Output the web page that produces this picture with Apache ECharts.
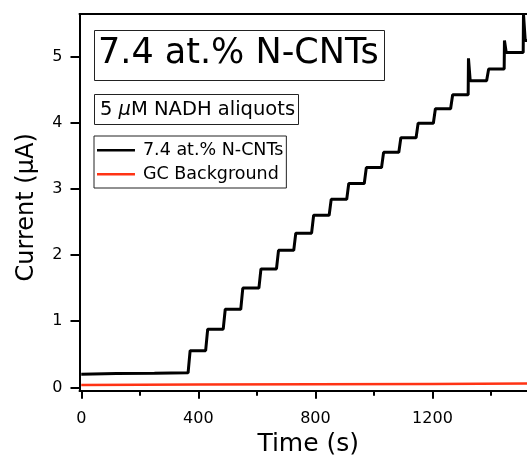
<!DOCTYPE html>
<html>
<head>
<meta charset="utf-8">
<script src="https://cdn.jsdelivr.net/npm/echarts@6/dist/echarts.min.js"></script>
<style>
html,body{margin:0;padding:0;background:#fff;}
#chart{width:527px;height:457px;}
</style>
</head>
<body>
<div id="chart"></div>
<script>
// ---- data ----
const seriesNames = ['7.4 at.% N-CNTs', 'GC Background'];
// baseline of the N-CNT trace before the first aliquot
const baselineTimes = [0, 120, 250, 365];
const baselineValues = [0.20, 0.21, 0.215, 0.22];
// times (s) at which each NADH aliquot step starts
const stepTimes = [365, 425, 485, 545, 607, 667, 726, 787, 847, 907, 967, 1026, 1085, 1144, 1203, 1262, 1322, 1385, 1445, 1510];
// plateau current (uA) after each step
const stepLevels = [0.555, 0.88, 1.18, 1.50, 1.79, 2.07, 2.33, 2.60, 2.84, 3.08, 3.32, 3.55, 3.77, 3.99, 4.21, 4.42, 4.63, 4.81, 5.06, 5.24];
// injection spike peaks (uA), null where no spike
const stepSpikes = [null, null, null, null, null, null, null, null, null, null, null, null, null, null, null, null, 4.97, null, 5.24, 5.64];
const riseSeconds = 7;
const traceEnd = 1523;
// GC background trace
const bgTimes = [0, 400, 800, 1200, 1523];
const bgValues = [0.035, 0.042, 0.049, 0.053, 0.057];
// axes
const xMajorTicks = [0, 400, 800, 1200];
const xMinorTicks = [200, 600, 1000, 1400];
const yTicks = [0, 1, 2, 3, 4, 5];
const xRange = [-6, 1523];
const yRange = [-0.05, 5.64];

// ---- build series ----
const cntData = [];
baselineTimes.forEach((t, i) => cntData.push([t, baselineValues[i]]));
stepTimes.forEach((t, i) => {
  const prev = i === 0 ? baselineValues[baselineValues.length - 1] : stepLevels[i - 1];
  cntData.push([t, prev]);
  if (stepSpikes[i] !== null) cntData.push([t + 1, stepSpikes[i]]);
  cntData.push([t + riseSeconds, stepLevels[i]]);
});
cntData.push([traceEnd, stepLevels[stepLevels.length - 1]]);
const bgData = bgTimes.map((t, i) => [t, bgValues[i]]);

const FONT = 'DejaVu Sans';
const lineIcon = 'path://M0,0 L0,0.01 M0,8 L38,8 L38,10.6 L0,10.6 Z M38,18 L38,18.01';
const chart = echarts.init(document.getElementById('chart'), null, {renderer: 'canvas'});
chart.setOption({
  animation: false,
  backgroundColor: '#fff',
  grid: {left: 79.5, right: 0, top: 14, bottom: 66.3, containLabel: false, outerBoundsMode: 'none'},
  xAxis: [
    {
      type: 'value', min: xRange[0], max: xRange[1], position: 'bottom',
      axisLine: {show: true, onZero: false, lineStyle: {color: '#000', width: 2}},
      axisTick: {show: true, customValues: xMajorTicks, length: 8, lineStyle: {color: '#000', width: 2}},
      axisLabel: {customValues: xMajorTicks, fontSize: 16, fontFamily: FONT, color: '#000', margin: 20,
        formatter: v => String(v)},
      splitLine: {show: false},
      name: 'Time (s)', nameLocation: 'middle', nameGap: 40,
      nameTextStyle: {fontSize: 25, fontFamily: FONT, color: '#000', padding: [0, 0, 0, 10]}
    },
    {
      type: 'value', min: xRange[0], max: xRange[1], position: 'top',
      axisLine: {show: true, onZero: false, lineStyle: {color: '#000', width: 2}},
      axisTick: {show: false}, axisLabel: {show: false}, splitLine: {show: false}
    },
    {
      type: 'value', min: xRange[0], max: xRange[1], position: 'bottom',
      axisLine: {show: false, onZero: false},
      axisTick: {show: true, customValues: xMinorTicks, length: 5, lineStyle: {color: '#000', width: 2}},
      axisLabel: {show: false}, splitLine: {show: false}
    }
  ],
  yAxis: {
    type: 'value', min: yRange[0], max: yRange[1],
    axisLine: {show: true, onZero: false, lineStyle: {color: '#000', width: 2}},
    axisTick: {show: true, customValues: yTicks, length: 9, lineStyle: {color: '#000', width: 2}},
    axisLabel: {customValues: yTicks, fontSize: 16, fontFamily: FONT, color: '#000', margin: 17},
    splitLine: {show: false},
    name: 'Current (\u03BCA)', nameLocation: 'middle', nameGap: 41,
    nameTextStyle: {fontSize: 24, fontFamily: FONT, color: '#000', padding: [0, 10, 0, 0]}
  },
  legend: {
    orient: 'vertical', left: 94, top: 136,
    padding: [5, 3, 5, 3],
    borderColor: '#222', borderWidth: 1,
    itemWidth: 38, itemHeight: 18, itemGap: 6,
    textStyle: {fontSize: 17.5, fontFamily: FONT, color: '#000', padding: [0, 0, 0, 3]},
    data: seriesNames.map(n => ({name: n, icon: lineIcon}))
  },
  graphic: [
    {type: 'rect', shape: {x: 94.5, y: 30.5, width: 290, height: 50}, style: {fill: '#fff', stroke: '#222', lineWidth: 1}, z: 10},
    {type: 'text', x: 98, y: 54, style: {text: '7.4 at.% N-CNTs', font: '35px "DejaVu Sans"', fill: '#000', verticalAlign: 'middle', align: 'left'}, z: 11},
    {type: 'rect', shape: {x: 94.5, y: 94.5, width: 204, height: 30}, style: {fill: '#fff', stroke: '#222', lineWidth: 1}, z: 10},
    {type: 'text', x: 100, y: 110, style: {
      text: '{a|5 }{i|\u03BC}{a|M NADH aliquots}',
      verticalAlign: 'middle', align: 'left',
      rich: {
        a: {fontSize: 19.5, fontFamily: FONT, fill: '#000'},
        i: {fontSize: 19.5, fontFamily: FONT, fontStyle: 'italic', fill: '#000'}
      }
    }, z: 11}
  ],
  series: [
    {
      name: seriesNames[0], type: 'line', data: cntData, xAxisIndex: 0, yAxisIndex: 0,
      symbol: 'none', clip: true, lineStyle: {color: '#000', width: 3}, itemStyle: {color: '#000'}, z: 3
    },
    {
      name: seriesNames[1], type: 'line', data: bgData, xAxisIndex: 0, yAxisIndex: 0,
      symbol: 'none', clip: true, lineStyle: {color: '#ff3314', width: 2.5}, itemStyle: {color: '#ff3314'}, z: 2
    }
  ]
});
</script>
</body>
</html>
